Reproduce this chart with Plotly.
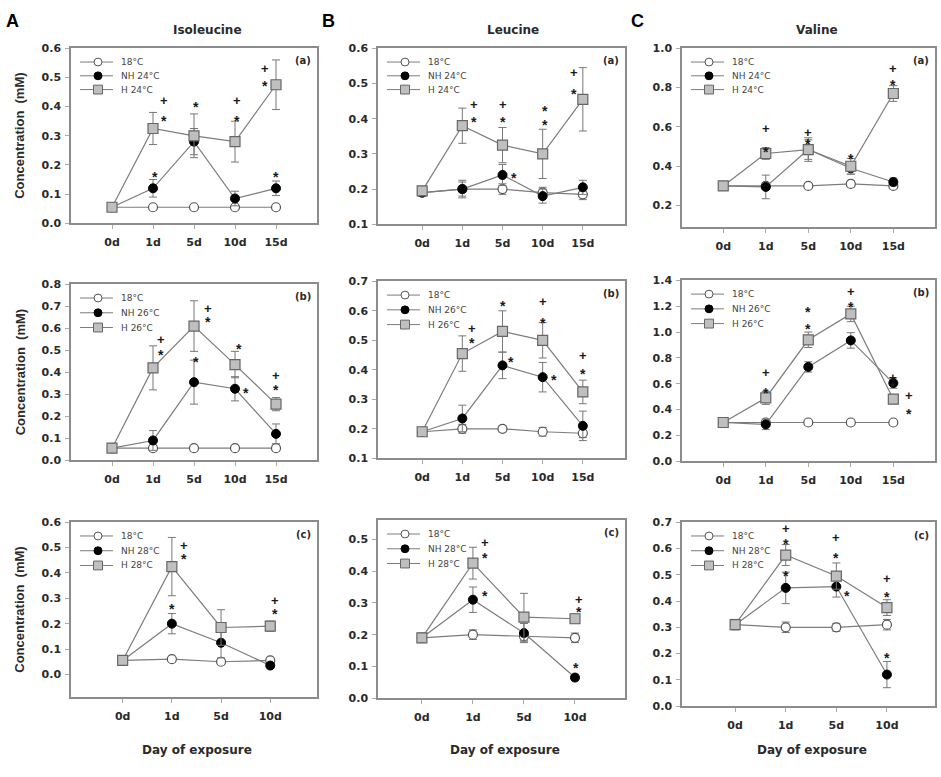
import plotly.graph_objects as go

W, H = 941, 777

# ---------------- data ----------------
days_15 = ["0d", "1d", "5d", "10d", "15d"]
days_10 = ["0d", "1d", "5d", "10d"]

# Isoleucine 24 °C (A-a)
ile24_ctrl = [0.055, 0.055, 0.055, 0.055, 0.055]
ile24_ctrl_err = [0.005, 0.005, 0.004, 0.006, 0.005]
ile24_nh = [0.055, 0.12, 0.28, 0.085, 0.12]
ile24_nh_err = [0.005, 0.03, 0.045, 0.025, 0.025]
ile24_h = [0.055, 0.325, 0.30, 0.28, 0.475]
ile24_h_err = [0.005, 0.055, 0.075, 0.07, 0.085]

# Leucine 24 °C (B-a)
leu24_ctrl = [0.19, 0.20, 0.20, 0.19, 0.185]
leu24_ctrl_err = [0.01, 0.02, 0.015, 0.015, 0.015]
leu24_nh = [0.19, 0.20, 0.24, 0.18, 0.205]
leu24_nh_err = [0.01, 0.025, 0.03, 0.02, 0.02]
leu24_h = [0.195, 0.38, 0.325, 0.30, 0.455]
leu24_h_err = [0.01, 0.05, 0.05, 0.07, 0.09]

# Valine 24 °C (C-a)
val24_ctrl = [0.30, 0.30, 0.30, 0.31, 0.30]
val24_ctrl_err = [0.01, 0.01, 0.01, 0.015, 0.01]
val24_nh = [0.30, 0.295, 0.485, 0.39, 0.32]
val24_nh_err = [0.01, 0.06, 0.06, 0.03, 0.02]
val24_h = [0.30, 0.465, 0.485, 0.40, 0.77]
val24_h_err = [0.01, 0.03, 0.05, 0.04, 0.04]

# Isoleucine 26 °C (A-b)
ile26_ctrl = [0.055, 0.055, 0.055, 0.055, 0.055]
ile26_ctrl_err = [0.005, 0.005, 0.005, 0.005, 0.005]
ile26_nh = [0.055, 0.09, 0.355, 0.325, 0.12]
ile26_nh_err = [0.005, 0.045, 0.10, 0.055, 0.045]
ile26_h = [0.055, 0.42, 0.61, 0.435, 0.255]
ile26_h_err = [0.005, 0.10, 0.115, 0.06, 0.03]

# Leucine 26 °C (B-b)
leu26_ctrl = [0.19, 0.20, 0.20, 0.19, 0.185]
leu26_ctrl_err = [0.01, 0.015, 0.01, 0.015, 0.015]
leu26_nh = [0.19, 0.235, 0.415, 0.375, 0.21]
leu26_nh_err = [0.01, 0.045, 0.045, 0.05, 0.05]
leu26_h = [0.19, 0.455, 0.53, 0.50, 0.325]
leu26_h_err = [0.01, 0.06, 0.07, 0.06, 0.04]

# Valine 26 °C (C-b)
val26_ctrl = [0.30, 0.30, 0.30, 0.30, 0.30]
val26_ctrl_err = [0.01, 0.01, 0.01, 0.01, 0.01]
val26_nh = [0.30, 0.285, 0.73, 0.935, 0.605]
val26_nh_err = [0.01, 0.04, 0.04, 0.06, 0.04]
val26_h = [0.30, 0.49, 0.94, 1.14, 0.48]
val26_h_err = [0.01, 0.05, 0.06, 0.06, 0.03]

# Isoleucine 28 °C (A-c)
ile28_ctrl = [0.055, 0.06, 0.05, 0.055]
ile28_ctrl_err = [0.005, 0.005, 0.005, 0.005]
ile28_nh = [0.055, 0.20, 0.125, 0.035]
ile28_nh_err = [0.005, 0.04, 0.06, 0.01]
ile28_h = [0.055, 0.425, 0.185, 0.19]
ile28_h_err = [0.005, 0.115, 0.07, 0.02]

# Leucine 28 °C (B-c)
leu28_ctrl = [0.19, 0.20, 0.195, 0.19]
leu28_ctrl_err = [0.015, 0.015, 0.015, 0.015]
leu28_nh = [0.19, 0.31, 0.205, 0.065]
leu28_nh_err = [0.01, 0.04, 0.03, 0.01]
leu28_h = [0.19, 0.425, 0.255, 0.25]
leu28_h_err = [0.01, 0.05, 0.075, 0.015]

# Valine 28 °C (C-c)
val28_ctrl = [0.31, 0.30, 0.30, 0.31]
val28_ctrl_err = [0.02, 0.02, 0.015, 0.02]
val28_nh = [0.31, 0.45, 0.455, 0.12]
val28_nh_err = [0.01, 0.06, 0.04, 0.05]
val28_h = [0.31, 0.575, 0.495, 0.375]
val28_h_err = [0.01, 0.04, 0.05, 0.03]

# significance marks: (day, offset in categories, value, symbol)
sig_ile24 = [("1d", 0.28, 0.42, "+"), ("1d", 0.28, 0.36, "*"), ("1d", 0.05, 0.17, "*"),
             ("5d", 0.05, 0.41, "*"), ("10d", 0.05, 0.42, "+"), ("10d", 0.05, 0.36, "*"),
             ("15d", -0.28, 0.53, "+"), ("15d", -0.28, 0.48, "*"), ("15d", 0.0, 0.17, "*")]
sig_leu24 = [("1d", 0.28, 0.44, "+"), ("1d", 0.28, 0.40, "*"), ("5d", 0.0, 0.44, "+"),
             ("5d", 0.0, 0.40, "*"), ("5d", 0.28, 0.24, "*"), ("10d", 0.05, 0.43, "*"),
             ("10d", 0.05, 0.39, "*"), ("15d", -0.22, 0.53, "+"), ("15d", -0.22, 0.48, "*")]
sig_val24 = [("1d", 0.0, 0.59, "+"), ("1d", 0.0, 0.49, "*"), ("5d", 0.0, 0.57, "+"),
             ("5d", 0.0, 0.53, "*"), ("10d", 0.0, 0.45, "*"), ("15d", 0.0, 0.895, "+"),
             ("15d", 0.0, 0.83, "*")]
sig_ile26 = [("1d", 0.2, 0.55, "+"), ("1d", 0.2, 0.49, "*"), ("5d", 0.33, 0.69, "+"),
             ("5d", 0.33, 0.64, "*"), ("5d", 0.05, 0.46, "*"), ("10d", 0.1, 0.52, "*"),
             ("10d", 0.28, 0.32, "*"), ("15d", 0.0, 0.385, "+"), ("15d", 0.0, 0.335, "*")]
sig_leu26 = [("1d", 0.25, 0.54, "+"), ("1d", 0.25, 0.50, "*"), ("5d", 0.0, 0.625, "*"),
             ("5d", 0.22, 0.435, "*"), ("10d", 0.0, 0.63, "+"), ("10d", 0.0, 0.57, "*"),
             ("10d", 0.28, 0.375, "*"), ("15d", 0.0, 0.45, "+"), ("15d", 0.0, 0.395, "*")]
sig_val26 = [("1d", 0.0, 0.685, "+"), ("1d", 0.0, 0.555, "*"), ("5d", 0.0, 1.18, "*"),
             ("5d", 0.0, 1.05, "*"), ("10d", 0.0, 1.31, "+"), ("10d", 0.0, 1.22, "*"),
             ("15d", 0.0, 0.645, "+"), ("15d", 0.0, 0.60, "*"), ("15d", 0.36, 0.505, "+"),
             ("15d", 0.36, 0.39, "*")]
sig_ile28 = [("1d", 0.24, 0.51, "+"), ("1d", 0.24, 0.465, "*"), ("1d", 0.0, 0.27, "*"),
             ("10d", 0.1, 0.29, "+"), ("10d", 0.1, 0.25, "*")]
sig_leu28 = [("1d", 0.24, 0.49, "+"), ("1d", 0.24, 0.45, "*"), ("1d", 0.24, 0.33, "*"),
             ("10d", 0.07, 0.31, "+"), ("10d", 0.07, 0.28, "*"), ("10d", 0.02, 0.105, "*")]
sig_val28 = [("1d", 0.0, 0.675, "+"), ("1d", 0.0, 0.63, "*"), ("1d", 0.0, 0.505, "*"),
             ("5d", 0.0, 0.64, "+"), ("5d", 0.0, 0.575, "*"), ("5d", 0.22, 0.43, "*"),
             ("10d", 0.0, 0.485, "+"), ("10d", 0.0, 0.425, "*"), ("10d", 0.0, 0.195, "*")]

amino_titles = ["Isoleucine", "Leucine", "Valine"]
col_letters = ["A", "B", "C"]
temps = ["24", "26", "28"]
tags = ["(a)", "(b)", "(c)"]

# ---------------- panel layout (pixel frames) ----------------
col_x = [(71, 317), (378, 625), (682, 935)]
row_y = [[(43, 221), (43, 222), (43, 225)],
         [(283, 462), (280, 460), (279, 463)],
         [(525, 703), (523, 704), (525, 712)]]

panels = [
    # row 0
    dict(days=days_15, c=ile24_ctrl, ce=ile24_ctrl_err, n=ile24_nh, ne=ile24_nh_err, h=ile24_h, he=ile24_h_err,
         yr=[0, 0.6], yt=[0, 0.1, 0.2, 0.3, 0.4, 0.5, 0.6], xr=[-1, 5], sig=sig_ile24),
    dict(days=days_15, c=leu24_ctrl, ce=leu24_ctrl_err, n=leu24_nh, ne=leu24_nh_err, h=leu24_h, he=leu24_h_err,
         yr=[0.1, 0.6], yt=[0.1, 0.2, 0.3, 0.4, 0.5, 0.6], xr=[-1.1, 5.05], sig=sig_leu24),
    dict(days=days_15, c=val24_ctrl, ce=val24_ctrl_err, n=val24_nh, ne=val24_nh_err, h=val24_h, he=val24_h_err,
         yr=[0.09, 1.0], yt=[0.2, 0.4, 0.6, 0.8, 1.0], xr=[-0.97, 4.98], sig=sig_val24),
    # row 1
    dict(days=days_15, c=ile26_ctrl, ce=ile26_ctrl_err, n=ile26_nh, ne=ile26_nh_err, h=ile26_h, he=ile26_h_err,
         yr=[0, 0.8], yt=[0, 0.1, 0.2, 0.3, 0.4, 0.5, 0.6, 0.7, 0.8], xr=[-1, 5], sig=sig_ile26),
    dict(days=days_15, c=leu26_ctrl, ce=leu26_ctrl_err, n=leu26_nh, ne=leu26_nh_err, h=leu26_h, he=leu26_h_err,
         yr=[0.1, 0.7], yt=[0.1, 0.2, 0.3, 0.4, 0.5, 0.6, 0.7], xr=[-1.1, 5.05], sig=sig_leu26),
    dict(days=days_15, c=val26_ctrl, ce=val26_ctrl_err, n=val26_nh, ne=val26_nh_err, h=val26_h, he=val26_h_err,
         yr=[0, 1.4], yt=[0, 0.2, 0.4, 0.6, 0.8, 1.0, 1.2, 1.4], xr=[-0.97, 4.98], sig=sig_val26),
    # row 2
    dict(days=days_10, c=ile28_ctrl, ce=ile28_ctrl_err, n=ile28_nh, ne=ile28_nh_err, h=ile28_h, he=ile28_h_err,
         yr=[-0.09, 0.6], yt=[0, 0.1, 0.2, 0.3, 0.4, 0.5, 0.6], xr=[-1.05, 3.95], sig=sig_ile28),
    dict(days=days_10, c=leu28_ctrl, ce=leu28_ctrl_err, n=leu28_nh, ne=leu28_nh_err, h=leu28_h, he=leu28_h_err,
         yr=[0, 0.56], yt=[0, 0.1, 0.2, 0.3, 0.4, 0.5], xr=[-0.86, 3.98], sig=sig_leu28),
    dict(days=days_10, c=val28_ctrl, ce=val28_ctrl_err, n=val28_nh, ne=val28_nh_err, h=val28_h, he=val28_h_err,
         yr=[0, 0.7], yt=[0, 0.1, 0.2, 0.3, 0.4, 0.5, 0.6, 0.7], xr=[-1.05, 3.95], sig=sig_val28),
]

FONT = "DejaVu Sans"
TXT = "#2a2a2a"
LINE_C = "#7c7c7c"
FRAME_C = "#8c8c8c"

series_style = [
    ("c", "ce", dict(symbol="circle", size=9, color="white", line=dict(color="#555555", width=1.2))),
    ("n", "ne", dict(symbol="circle", size=9, color="black", line=dict(color="black", width=1))),
    ("h", "he", dict(symbol="square", size=10, color="#bfbfbf", line=dict(color="#666666", width=1.2))),
]

fig = go.Figure()
layout = dict(width=W, height=H, margin=dict(l=0, r=0, t=0, b=0, pad=0), paper_bgcolor="white",
              plot_bgcolor="white", showlegend=False)
annotations = []
shapes = []


def px(x):
    return x / W


def py(y):
    return 1 - y / H


for i, p in enumerate(panels):
    r, c = divmod(i, 3)
    sfx = "" if i == 0 else str(i + 1)
    xa, ya = "x" + sfx, "y" + sfx
    x0, x1 = col_x[c]
    y0, y1 = row_y[r][c]
    xs = list(range(len(p["days"])))
    for key, ekey, mk in series_style:
        fig.add_trace(go.Scatter(
            x=xs, y=p[key], mode="lines+markers", xaxis=xa, yaxis=ya,
            line=dict(color=LINE_C, width=1.2), marker=mk,
            error_y=dict(type="data", array=p[ekey], color="#777777", thickness=1, width=4),
            showlegend=False, hoverinfo="skip"))
    tickfont = dict(family=FONT, size=11, color=TXT, weight="bold")
    layout["xaxis" + sfx] = dict(domain=[px(x0), px(x1)], anchor=ya, range=p["xr"], tickvals=xs,
                                 ticktext=p["days"], showline=True, mirror=True, linecolor=FRAME_C,
                                 linewidth=1.5, ticks="outside", ticklen=4, tickcolor="#aaaaaa",
                                 showgrid=False, zeroline=False, tickfont=tickfont, ticklabelstandoff=4)
    layout["yaxis" + sfx] = dict(domain=[py(y1), py(y0)], anchor=xa, range=p["yr"], tickvals=p["yt"],
                                 tickformat=".1f", showline=True, mirror=True, linecolor=FRAME_C,
                                 linewidth=1.5, ticks="outside", ticklen=4, tickcolor="#aaaaaa",
                                 showgrid=False, zeroline=False, tickfont=tickfont, ticklabelstandoff=2)
    # significance marks
    for day, dx, val, sym in p["sig"]:
        annotations.append(dict(x=p["days"].index(day) + dx, y=val, xref=xa, yref=ya, text=sym,
                                showarrow=False, xanchor="center", yanchor="middle",
                                yshift=-3 if sym == "*" else 0,
                                font=dict(family="Liberation Sans", size=14 if sym == "*" else 13,
                                          color="#1a1a1a", weight="bold")))
    # panel tag
    annotations.append(dict(x=0.985, y=0.93, xref=xa + " domain", yref=ya + " domain", text=tags[r],
                            showarrow=False, xanchor="right", yanchor="middle",
                            font=dict(family=FONT, size=10, color=TXT, weight="bold")))
    # legend (drawn inside frame, top-left)
    t = temps[r]
    labels = ["18°C", "NH %s°C" % t, "H %s°C" % t]
    top = 14
    gap = 14 if r == 0 else 15
    for k, lab in enumerate(labels):
        yy = y0 + top + k * gap
        shapes.append(dict(type="line", xref="paper", yref="paper", x0=px(x0 + 9), x1=px(x0 + 42),
                           y0=py(yy), y1=py(yy), line=dict(color=LINE_C, width=1)))
        cx = x0 + 27
        rad = 4
        if k == 2:
            shapes.append(dict(type="rect", xref="paper", yref="paper", x0=px(cx - 4.5), x1=px(cx + 4.5),
                               y0=py(yy + 4.5), y1=py(yy - 4.5), fillcolor="#bfbfbf",
                               line=dict(color="#666666", width=1)))
        else:
            shapes.append(dict(type="circle", xref="paper", yref="paper", x0=px(cx - rad), x1=px(cx + rad),
                               y0=py(yy + rad), y1=py(yy - rad),
                               fillcolor="white" if k == 0 else "black",
                               line=dict(color="#555555" if k == 0 else "black", width=1)))
        annotations.append(dict(x=px(x0 + 48), y=py(yy), xref="paper", yref="paper", text=lab,
                                showarrow=False, xanchor="left", yanchor="middle",
                                font=dict(family=FONT, size=9, color="#444444")))

# column titles and letters
title_x = [207, 513, 817]
letter_x = [12, 328, 637]
for c in range(3):
    annotations.append(dict(x=px(title_x[c]), y=py(24), xref="paper", yref="paper", text=amino_titles[c],
                            showarrow=False, xanchor="center", yanchor="middle",
                            font=dict(family=FONT, size=12, color=TXT, weight="bold")))
    annotations.append(dict(x=px(letter_x[c]), y=py(15), xref="paper", yref="paper", text=col_letters[c],
                            showarrow=False, xanchor="center", yanchor="middle",
                            font=dict(family="Liberation Sans", size=18, color="black", weight="bold")))
    annotations.append(dict(x=px((col_x[c][0] + col_x[c][1]) / 2 + 3), y=py(757), xref="paper", yref="paper",
                            text="Day of exposure", showarrow=False, xanchor="center", yanchor="middle",
                            font=dict(family=FONT, size=12, color=TXT, weight="bold")))

for r in range(3):
    yc = (row_y[r][0][0] + row_y[r][0][1]) / 2
    annotations.append(dict(x=px(20), y=py(yc), xref="paper", yref="paper", text="Concentration  (mM)",
                            textangle=-90, showarrow=False, xanchor="center", yanchor="middle",
                            font=dict(family="Liberation Sans", size=13, color=TXT, weight="bold")))

layout["annotations"] = annotations
layout["shapes"] = shapes
fig.update_layout(**layout)
fig.write_html("out.html", config={"displayModeBar": False},
               post_script="document.body.style.margin='0';document.body.style.padding='0';"
                           "document.documentElement.style.overflow='hidden';")
